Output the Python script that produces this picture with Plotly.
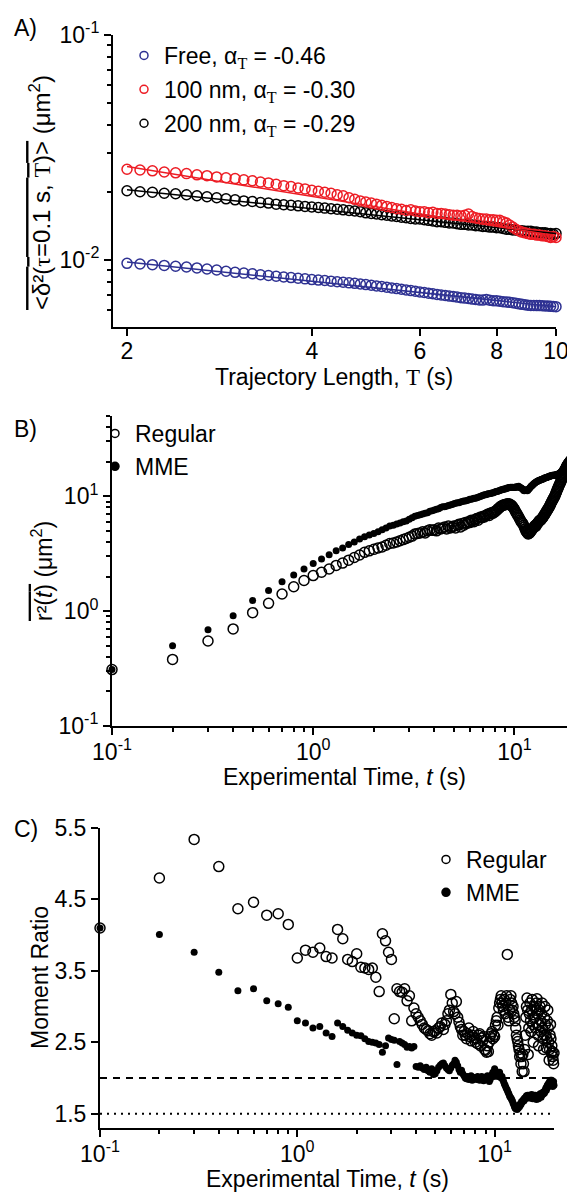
import plotly.graph_objects as go

# The page places the figure 8 px from the top-left corner (default body margin),
# so the figure is sized to fill the rest of the 575x1195 window.
OFF = 8
W, H = 575 - OFF, 1195 - OFF
FONT = "Liberation Sans"
FS = 23

# ---------------- Panel A data ----------------
traj_T = [round(0.1 * i, 1) for i in range(20, 101)]
free_msd = [0.00966, 0.00960, 0.00953, 0.00946, 0.00938, 0.00931,
            0.00922, 0.00912, 0.00902, 0.00891, 0.00881,
            0.00874, 0.00868, 0.00860, 0.00853, 0.00846,
            0.00840, 0.00835, 0.00829, 0.00824, 0.00818,
            0.00814, 0.00810, 0.00805, 0.00800, 0.00796,
            0.00791, 0.00787, 0.00782, 0.00777, 0.00772,
            0.00767, 0.00762, 0.00757, 0.00751, 0.00746,
            0.00741, 0.00736, 0.00731, 0.00726, 0.00721,
            0.00717, 0.00712, 0.00708, 0.00703, 0.00699,
            0.00695, 0.00691, 0.00688, 0.00684, 0.00680,
            0.00677, 0.00674, 0.00670, 0.00667, 0.00664,
            0.00663, 0.00668, 0.00662, 0.00659, 0.00658,
            0.00655, 0.00652, 0.00650, 0.00648, 0.00646,
            0.00642, 0.00638, 0.00635, 0.00632, 0.00629,
            0.00628, 0.00628, 0.00627, 0.00627, 0.00626,
            0.00625, 0.00624, 0.00622, 0.00621, 0.00620]
nm100_msd = [0.0253, 0.0251, 0.0249, 0.0246, 0.0244, 0.0242,
             0.0239, 0.0237, 0.0234, 0.0232, 0.0230,
             0.0227, 0.0225, 0.0222, 0.0220, 0.0217,
             0.0214, 0.0212, 0.0209, 0.0207, 0.0204,
             0.0202, 0.0200, 0.0198, 0.0195, 0.0193,
             0.0189, 0.0186, 0.0183, 0.0181, 0.0179,
             0.0177, 0.0175, 0.0173, 0.0171, 0.0169,
             0.0168, 0.0166, 0.0167, 0.0165, 0.0164,
             0.0164, 0.0162, 0.0163, 0.0161, 0.0161,
             0.0160, 0.0159, 0.0158, 0.0158, 0.0157,
             0.0158, 0.0160, 0.0156, 0.0154, 0.0153,
             0.0152, 0.0152, 0.0151, 0.0151, 0.0150,
             0.0150, 0.0148, 0.0146, 0.0143, 0.0140,
             0.0137, 0.0135, 0.0133, 0.0132, 0.0131,
             0.0130, 0.0130, 0.0129, 0.0129, 0.0128,
             0.0128, 0.0127, 0.0126, 0.0127, 0.0126]
nm200_msd = [0.0203, 0.0201, 0.0200, 0.0198, 0.0197, 0.0195,
             0.0193, 0.0191, 0.0189, 0.0187, 0.0185,
             0.0183, 0.0182, 0.0180, 0.0179, 0.0177,
             0.0176, 0.0175, 0.0174, 0.0173, 0.0172,
             0.0171, 0.0170, 0.0169, 0.0168, 0.0167,
             0.0166, 0.0165, 0.0164, 0.0162, 0.0161,
             0.0160, 0.0159, 0.0158, 0.0157, 0.0156,
             0.0155, 0.0154, 0.0153, 0.0152, 0.0152,
             0.0151, 0.0150, 0.0149, 0.0148, 0.0148,
             0.0147, 0.0146, 0.0146, 0.0145, 0.0144,
             0.0144, 0.0143, 0.0143, 0.0142, 0.0142,
             0.0141, 0.0141, 0.0140, 0.0140, 0.0139,
             0.0139, 0.0138, 0.0137, 0.0137, 0.0136,
             0.0136, 0.0135, 0.0135, 0.0134, 0.0134,
             0.0134, 0.0133, 0.0133, 0.0132, 0.0132,
             0.0132, 0.0131, 0.0131, 0.0130, 0.0131]
fit_T = [2, 10]
free_fit = [0.0098, 0.0062]
nm100_fit = [0.0260, 0.0128]
nm200_fit = [0.0205, 0.0131]
legend_A_names = ["Free", "100 nm", "200 nm"]
legend_A_alpha = ["-0.46", "-0.30", "-0.29"]
colors_A = ["#2e3192", "#ed1c24", "#000000"]

# ---------------- Panel B / C data ----------------
exp_t = [round(0.1 * i, 1) for i in range(1, 201)]
r2_regular = [0.31, 0.38, 0.55, 0.70, 0.97, 1.17, 1.41, 1.63, 1.85,
              2.04, 2.18, 2.33, 2.50, 2.62, 2.78, 2.93, 3.08, 3.25, 3.35,
              3.45, 3.55, 3.62, 3.75, 3.88, 3.92, 4.00, 4.10, 4.20, 4.30,
              4.40, 4.50, 4.70, 4.75, 4.80, 4.90, 4.80, 5.00, 5.10, 5.05,
              5.10, 5.00, 5.30, 5.20, 5.30, 5.40, 5.20, 5.50, 5.30, 5.40,
              5.50, 5.30, 5.60, 5.70, 5.40, 5.80, 5.60, 5.90, 5.80, 6.00,
              5.90, 6.20, 6.10, 6.00, 6.30, 6.40, 6.20, 6.50, 6.60, 6.50,
              6.70, 6.60, 6.80, 6.90, 7.00, 6.80, 7.10, 7.20, 7.10, 7.30,
              7.30, 7.50, 7.60, 7.80, 7.90, 8.10, 8.20, 8.30, 8.40, 8.40,
              8.50, 8.50, 8.60, 8.50, 8.60, 8.50, 8.40, 8.30, 8.10, 7.90,
              7.70, 7.40, 7.20, 7.00, 6.80, 6.60, 6.40, 6.20, 6.00, 5.90,
              5.80, 5.60, 5.40, 5.20, 5.00, 4.90, 4.80, 4.70, 4.75, 4.80,
              4.90, 5.00, 5.10, 5.20, 5.30, 5.40, 5.50, 5.60, 5.50, 5.70,
              5.80, 5.90, 6.00, 6.10, 6.20, 6.20, 6.30, 6.40, 6.50, 6.60,
              6.80, 6.90, 7.00, 7.20, 7.30, 7.50, 7.60, 7.80, 7.90, 8.10,
              8.30, 8.50, 8.70, 8.90, 9.10, 9.30, 9.50, 9.70, 9.90, 10.1,
              10.4, 10.7, 11.0, 11.3, 11.6, 11.9, 12.2, 12.5, 12.8, 13.1,
              13.4, 13.8, 14.1, 14.5, 14.9, 15.3, 15.7, 16.1, 16.5, 17.0,
              17.4, 17.8, 18.2, 18.5, 18.8, 19.1, 19.4, 19.6, 19.9, 20.1,
              20.3, 20.5, 20.7, 20.8, 20.9, 21.0, 21.1, 21.1, 21.2, 21.3, 21.3]
r2_mme = [0.31, 0.50, 0.69, 0.91, 1.24, 1.51, 1.80, 2.06, 2.33,
          2.60, 2.85, 3.10, 3.35, 3.55, 3.80, 4.00, 4.25, 4.45, 4.60,
          4.75, 4.90, 5.10, 5.30, 5.50, 5.60, 5.75, 5.85, 6.00, 6.10,
          6.30, 6.50, 6.70, 6.80, 6.90, 7.00, 7.10, 7.20, 7.40, 7.50,
          7.60, 7.70, 7.80, 8.00, 8.10, 8.10, 8.20, 8.30, 8.40, 8.50,
          8.60, 8.70, 8.80, 8.80, 8.90, 9.00, 9.10, 9.10, 9.20, 9.30,
          9.40, 9.40, 9.50, 9.60, 9.60, 9.70, 9.80, 9.90, 10.0, 10.1,
          10.2, 10.3, 10.3, 10.4, 10.5, 10.5, 10.6, 10.7, 10.7, 10.8,
          10.9, 11.0, 11.0, 11.1, 11.2, 11.3, 11.4, 11.4, 11.5, 11.6,
          11.6, 11.7, 11.8, 11.8, 11.9, 11.9, 12.0, 11.9, 12.0, 11.9,
          11.9, 12.0, 12.1, 12.0, 12.1, 12.2, 12.0, 11.9, 11.8, 11.7, 11.5,
          11.3, 11.2, 11.3, 11.4, 11.3, 11.2, 11.4, 11.6, 11.8, 12.0,
          12.2, 12.4, 12.5, 12.7, 12.9, 13.0, 13.2, 13.3, 13.4, 13.5,
          13.6, 13.7, 13.8, 13.8, 13.9, 14.0, 14.1, 14.1, 14.2, 14.3,
          14.4, 14.4, 14.5, 14.6, 14.6, 14.7, 14.8, 14.8, 14.9, 15.0,
          15.0, 15.1, 15.1, 15.2, 15.2, 15.3, 15.2, 15.2, 15.3, 15.3,
          15.4, 15.4, 15.5, 15.5, 15.6, 15.7, 15.8, 15.9, 16.0, 16.2,
          16.4, 16.6, 16.9, 17.1, 17.4, 17.7, 18.0, 18.3, 18.5, 18.8,
          19.0, 19.2, 19.4, 19.6, 19.8, 20.0, 20.2, 20.3, 20.5, 20.6,
          20.8, 20.9, 21.0, 21.1, 21.2, 21.3, 21.3, 21.4, 21.5, 21.5]
ratio_regular = [4.10, 4.80, 5.34, 4.96, 4.37, 4.46, 4.28, 4.30, 4.15,
                 3.68, 3.79, 3.76, 3.82, 3.70, 3.68, 4.08, 3.95, 3.66, 3.63,
                 3.74, 3.55, 3.54, 3.52, 3.54, 3.41, 3.21, 4.02, 3.92, 3.76,
                 3.66, 2.83, 3.25, 3.21, 3.20, 3.25, 3.08, 3.15, 2.80, 2.98,
                 2.90, 2.85, 2.80, 2.75, 2.70, 2.68, 2.66, 2.62, 2.60, 2.65,
                 2.66, 2.63, 2.70, 2.72, 2.77, 2.68, 2.75, 2.80, 2.90, 2.95,
                 3.17, 3.05, 2.93, 2.90, 3.07, 2.85, 2.78, 2.72, 2.68, 2.60,
                 2.65, 2.60, 2.55, 2.62, 2.70, 2.58, 2.52, 2.60, 2.65, 2.56,
                 2.50, 2.55, 2.48, 2.60, 2.62, 2.45, 2.56, 2.52, 2.58, 2.40,
                 2.39, 2.36, 2.45, 2.37, 2.50, 2.58, 2.62, 2.65, 2.55, 2.60,
                 2.58, 2.74, 2.80, 2.85, 2.74, 2.98, 3.05, 3.10, 3.15, 3.05,
                 3.00, 2.95, 3.10, 2.90, 3.05, 3.15, 3.73, 2.85, 2.80, 2.95,
                 3.10, 3.15, 3.05, 2.95, 3.00, 2.90, 2.85, 2.80, 2.70, 2.60,
                 2.55, 2.51, 2.45, 2.40, 2.30, 2.35, 2.20, 2.30, 2.09, 2.33,
                 2.20, 2.09, 2.40, 2.60, 2.85, 3.00, 3.12, 2.95, 2.33, 2.70,
                 2.90, 3.05, 2.80, 2.65, 2.95, 3.10, 2.75, 2.50, 2.84, 3.00,
                 2.85, 2.70, 2.95, 3.05, 3.11, 2.90, 2.60, 2.45, 2.75, 2.95,
                 3.00, 2.80, 2.65, 2.90, 3.05, 2.70, 2.55, 2.40, 2.60, 2.85,
                 3.00, 2.75, 2.60, 2.42, 2.55, 2.80, 2.95, 2.70, 2.50, 2.25,
                 2.40, 2.60, 2.75, 2.55, 2.35, 2.45, 2.37, 2.30, 2.25, 2.20, 2.35]
ratio_mme = [4.10, 4.01, 3.76, 3.48, 3.22, 3.25, 3.08, 3.04, 2.99,
             2.80, 2.77, 2.70, 2.72, 2.63, 2.58, 2.77, 2.72, 2.67, 2.63,
             2.60, 2.59, 2.55, 2.51, 2.50, 2.49, 2.47, 2.36, 2.45, 2.56,
             2.54, 2.53, 2.19, 2.51, 2.49, 2.47, 2.43, 2.44, 2.42, 2.44,
             2.16, 2.15, 2.17, 2.14, 2.12, 2.15, 2.10, 2.08, 2.13, 2.05,
             2.06, 2.10, 2.15, 2.18, 2.20, 2.21, 2.17, 2.14, 2.12, 2.10,
             2.14, 2.18, 2.20, 2.25, 2.22, 2.17, 2.12, 2.08, 2.11, 2.06,
             2.03, 2.00, 1.99, 2.02, 1.98, 2.00, 2.03, 1.97, 2.01, 1.99,
             2.00, 1.98, 2.02, 1.99, 1.97, 1.99, 2.02, 2.00, 1.96, 2.01,
             1.98, 2.00, 2.03, 1.99, 1.95, 1.98, 2.02, 2.05, 2.08, 2.02,
             2.13, 2.10, 2.07, 2.04, 2.02, 2.05, 2.08, 2.03, 2.00, 2.02,
             1.98, 1.95, 1.92, 1.90, 1.87, 1.85, 1.83, 1.80, 1.78, 1.75,
             1.73, 1.72, 1.70, 1.68, 1.65, 1.63, 1.60, 1.58, 1.57, 1.58,
             1.56, 1.60, 1.58, 1.62, 1.60, 1.64, 1.63, 1.67, 1.66, 1.68,
             1.70, 1.68, 1.72, 1.71, 1.73, 1.75, 1.74, 1.76, 1.72, 1.75,
             1.76, 1.74, 1.72, 1.75, 1.77, 1.73, 1.71, 1.74, 1.76, 1.72,
             1.74, 1.76, 1.72, 1.70, 1.73, 1.75, 1.74, 1.71, 1.73, 1.76,
             1.78, 1.75, 1.73, 1.76, 1.79, 1.77, 1.80, 1.78, 1.81, 1.79,
             1.81, 1.84, 1.86, 1.83, 1.88, 1.90, 1.87, 1.92, 1.89, 1.93,
             1.95, 1.92, 1.97, 1.90, 1.94, 1.97, 1.91, 1.88, 1.93, 1.95, 1.90]
ref_t = [0.1, 20]
gaussian_level = [2.0, 2.0]
lower_level = [1.5, 1.5]
legend_BC = ["Regular", "MME"]


def px_x(p):
    """page pixel -> paper fraction"""
    return (p - OFF) / W


def px_y(p):
    return 1 - (p - OFF) / H


ser = lambda s: '<span style="font-family:Liberation Serif">%s</span>' % s
ovl = lambda s: '<span style="text-decoration:overline">%s</span>' % s

fig = go.Figure()

# ---- Panel A traces ----
series_A = [(nm200_msd, nm200_fit, colors_A[2]), (nm100_msd, nm100_fit, colors_A[1]),
            (free_msd, free_fit, colors_A[0])]
for vals, fit, col in series_A:
    fig.add_trace(go.Scatter(x=traj_T, y=vals, mode="markers", xaxis="x", yaxis="y",
                             marker=dict(symbol="circle-open", size=10, color=col, line=dict(width=1.5, color=col)),
                             showlegend=False, cliponaxis=False))
for vals, fit, col in series_A:
    fig.add_trace(go.Scatter(x=fit_T, y=fit, mode="lines", xaxis="x", yaxis="y",
                             line=dict(color=col, width=1.5), showlegend=False))
for i, (nm, al, col) in enumerate(zip(legend_A_names, legend_A_alpha, colors_A)):
    name = "%s, α<sub>%s</sub> = %s" % (nm, ser("T"), al)
    fig.add_trace(go.Scatter(x=[None], y=[None], mode="markers", xaxis="x", yaxis="y", name=name,
                             legend="legend", legendgroup="a%d" % i,
                             marker=dict(symbol="circle-open", size=8, color=col, line=dict(width=1.5, color=col))))

# ---- Panel B traces ----
fig.add_trace(go.Scatter(x=exp_t, y=r2_regular, mode="markers", xaxis="x2", yaxis="y2", showlegend=False,
                         marker=dict(symbol="circle-open", size=10, color="black", line=dict(width=1.5)),
                         cliponaxis=False))
fig.add_trace(go.Scatter(x=exp_t, y=r2_mme, mode="markers", xaxis="x2", yaxis="y2", showlegend=False,
                         marker=dict(symbol="circle", size=7, color="black"), cliponaxis=False))
for i, name in enumerate(legend_BC):
    sym = "circle-open" if i == 0 else "circle"
    fig.add_trace(go.Scatter(x=[None], y=[None], mode="markers", xaxis="x2", yaxis="y2", name=name,
                             legend="legend2", legendgroup="b%d" % i,
                             marker=dict(symbol=sym, size=8, color="black", line=dict(width=1.5, color="black"))))

# ---- Panel C traces ----
fig.add_trace(go.Scatter(x=ref_t, y=gaussian_level, mode="lines", xaxis="x3", yaxis="y3", showlegend=False,
                         line=dict(color="black", width=2, dash="7px,6px")))
fig.add_trace(go.Scatter(x=ref_t, y=lower_level, mode="lines", xaxis="x3", yaxis="y3", showlegend=False,
                         line=dict(color="black", width=2, dash="2px,5px")))
fig.add_trace(go.Scatter(x=exp_t, y=ratio_regular, mode="markers", xaxis="x3", yaxis="y3", showlegend=False,
                         marker=dict(symbol="circle-open", size=10, color="black", line=dict(width=1.5)),
                         cliponaxis=False))
fig.add_trace(go.Scatter(x=exp_t, y=ratio_mme, mode="markers", xaxis="x3", yaxis="y3", showlegend=False,
                         marker=dict(symbol="circle", size=7, color="black"), cliponaxis=False))
for i, name in enumerate(legend_BC):
    sym = "circle-open" if i == 0 else "circle"
    fig.add_trace(go.Scatter(x=[None], y=[None], mode="markers", xaxis="x3", yaxis="y3", name=name,
                             legend="legend3", legendgroup="c%d" % i,
                             marker=dict(symbol=sym, size=8, color="black", line=dict(width=1.5, color="black"))))

tickfont = dict(family=FONT, size=FS, color="black")
base = dict(showline=True, linecolor="black", linewidth=2, ticks="outside", ticklen=7, tickwidth=2,
            tickcolor="black", showgrid=False, zeroline=False, tickfont=tickfont, automargin=False)
xbase = dict(base, ticklabelstandoff=-3)
minor_log = dict(ticks="outside", ticklen=4, tickwidth=2, tickcolor="black", showgrid=False)


def pow10(e):
    return "10<sup>%d</sup>" % e


A_minor = [0.005, 0.006, 0.007, 0.008, 0.009] + [k / 100 for k in range(2, 10)]
B_y_minor = [k / 10 for k in range(2, 10)] + list(range(2, 10)) + [20, 30, 40, 50]
BC_x_minor = [k / 10 for k in range(2, 10)] + list(range(2, 10))

legfont = dict(family=FONT, size=FS, color="black")
fig.update_layout(
    width=W, height=H, margin=dict(l=0, r=0, t=0, b=0, autoexpand=False),
    paper_bgcolor="white", plot_bgcolor="white",
    font=dict(family=FONT, size=FS, color="black"),
    xaxis=dict(base, ticklabelstandoff=-5, type="log", domain=[px_x(113), px_x(556)], range=[0.2782, 1.0],
               anchor="y", tickvals=[2, 4, 6, 8, 10], ticktext=["2", "4", "6", "8", "10"]),
    yaxis=dict(base, type="log", domain=[px_y(327), px_y(35)], range=[-2.298, -1.0], anchor="x",
               tickvals=[0.01, 0.1], ticktext=[pow10(-2), pow10(-1)],
               minor=dict(minor_log, tickvals=A_minor)),
    xaxis2=dict(xbase, type="log", domain=[px_x(112), 1.0], range=[-1, 1.30103], anchor="y2",
                tickvals=[0.1, 1, 10], ticktext=[pow10(-1), pow10(0), pow10(1)],
                minor=dict(minor_log, tickvals=BC_x_minor)),
    yaxis2=dict(base, type="log", domain=[px_y(726), px_y(416)], range=[-1, 1.699], anchor="x2",
                tickvals=[0.1, 1, 10], ticktext=[pow10(-1), pow10(0), pow10(1)],
                minor=dict(minor_log, tickvals=B_y_minor)),
    xaxis3=dict(xbase, type="log", domain=[px_x(100), px_x(554)], range=[-1, 1.30103], anchor="y3",
                tickvals=[0.1, 1, 10], ticktext=[pow10(-1), pow10(0), pow10(1)],
                minor=dict(minor_log, tickvals=BC_x_minor)),
    yaxis3=dict(base, domain=[px_y(1128), px_y(828)], range=[1.3, 5.5], anchor="x3",
                tickvals=[1.5, 2.5, 3.5, 4.5, 5.5], ticktext=["1.5", "2.5", "3.5", "4.5", "5.5"]),
    legend=dict(x=px_x(124), y=px_y(34), xanchor="left", yanchor="top", bgcolor="rgba(0,0,0,0)",
                font=legfont, traceorder="grouped", tracegroupgap=1, itemwidth=30),
    legend2=dict(x=px_x(95), y=px_y(412), xanchor="left", yanchor="top", bgcolor="rgba(0,0,0,0)",
                 font=legfont, traceorder="grouped", tracegroupgap=0, itemwidth=30),
    legend3=dict(x=px_x(426), y=px_y(838), xanchor="left", yanchor="top", bgcolor="rgba(0,0,0,0)",
                 font=legfont, traceorder="grouped", tracegroupgap=0, itemwidth=30),
)

ann = [
    dict(text="A)", x=px_x(12), y=px_y(28)),
    dict(text="B)", x=px_x(12), y=px_y(429)),
    dict(text="C)", x=px_x(12), y=px_y(829)),
]
for a in ann:
    a.update(xref="paper", yref="paper", xanchor="left", yanchor="middle", showarrow=False,
             font=dict(family=FONT, size=FS, color="black"))
titles = [
    dict(text="Trajectory Length, " + ser("T") + " (s)", x=px_x(334), y=px_y(377), textangle=0, size=FS),
    dict(text="Experimental Time, <i>t</i> (s)", x=px_x(344), y=px_y(777), textangle=0, size=FS),
    dict(text="Experimental Time, <i>t</i> (s)", x=px_x(327), y=px_y(1179), textangle=0, size=FS),
    dict(text=ovl("&lt;δ²(" + ser("τ") + "=0.1 s, " + ser("T") + ")&gt;") + " (μm<sup>2</sup>)",
         x=px_x(40), y=px_y(193), textangle=-90, size=24),
    dict(text=ovl("r²(<i>t</i>)") + " (μm<sup>2</sup>)", x=px_x(42), y=px_y(571), textangle=-90, size=FS),
    dict(text="Moment Ratio", x=px_x(40), y=px_y(978), textangle=-90, size=FS),
]
for t in titles:
    sz = t.pop("size")
    t.update(xref="paper", yref="paper", xanchor="center", yanchor="middle", showarrow=False,
             font=dict(family=FONT, size=sz, color="black"))
fig.update_layout(annotations=ann + titles)

fig.write_html("out.html")
